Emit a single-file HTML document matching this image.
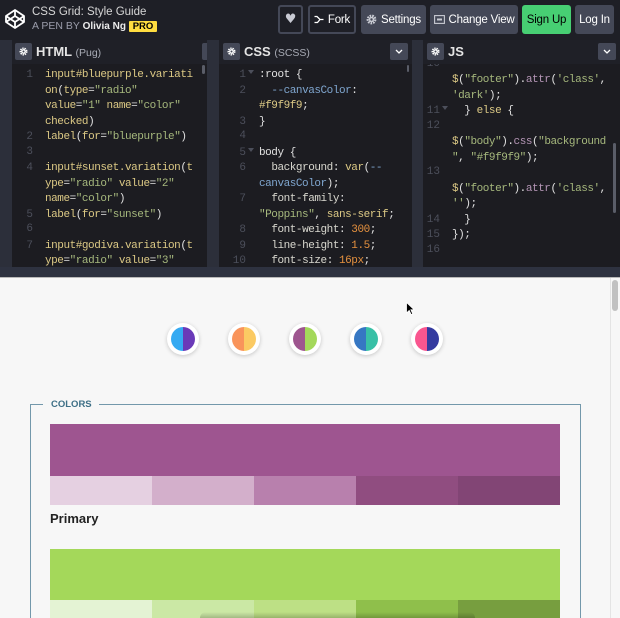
<!DOCTYPE html>
<html style="width:620px;height:618px;overflow:hidden"><head><meta charset="utf-8">
<style>
*{box-sizing:border-box;margin:0;padding:0}
html,body{width:620px;height:618px;overflow:hidden}
body{background:#f7f7f7;position:relative;font-family:"Liberation Sans",sans-serif}
.a{position:absolute}
#hdr{left:0;top:0;width:620px;height:40px;background:#1e1f26}
.btn{position:absolute;top:5px;height:29px;border-radius:3px;background:#444857;color:#fff;font-size:11.5px;display:flex;align-items:center;justify-content:center;letter-spacing:-0.2px;white-space:nowrap}
.ol{background:#1e1f26;border:2px solid #444857}
.pane{position:absolute;top:40px;height:227px;overflow:hidden;background:#1c1c21}
.ph{position:absolute;left:0;top:0;width:100%;height:24px;background:#1f2027}
.gear{position:absolute;top:3px;width:17px;height:17px;background:#444857;border-radius:2px;display:flex;align-items:center;justify-content:center}
.dd{position:absolute;top:3px;width:18px;height:17px;background:#444857;border-radius:2px;display:flex;align-items:center;justify-content:center}
.pt{position:absolute;top:4px;color:#e4e4e4;font-weight:bold;font-size:13px;line-height:16px;white-space:nowrap}
.pt small{font-weight:normal;font-size:10.5px;color:#a8abb5}
.code{position:absolute;left:0;top:24px;width:100%;height:203px;overflow:hidden}
.lines{position:absolute;left:0;font-family:"Liberation Mono",monospace;font-size:11px;letter-spacing:-0.45px;color:#e0e0e0}
.r{height:15.5px;line-height:15.5px;white-space:pre}
.n{display:inline-block;text-align:right;color:#4c4f5b;letter-spacing:0}
.f{display:inline-block;position:relative;height:10px}
.f.on::after{content:"";position:absolute;left:2px;top:3px;border-top:4px solid #4c4f5b;border-left:3px solid transparent;border-right:3px solid transparent}
.y{color:#dcc985}.w{color:#e2e2e2}.g{color:#a6b87d}.b{color:#7fa6cf}.o{color:#e5913f}.p{color:#b596b6}.pr{color:#d9d8cf}
.thumb{position:absolute;background:#5a5d68;border-radius:2px}
.cir{position:absolute;top:323px;width:32px;height:32px;border-radius:50%;background:#fff;box-shadow:0 1px 4px rgba(0,0,0,.2)}
.cir i{position:absolute;left:4px;top:4px;width:24px;height:24px;border-radius:50%}
.sw{position:absolute;height:29px}
.sw2{position:absolute;height:18px}
</style></head><body>

<!-- HEADER -->
<div id="hdr" class="a">
  <svg class="a" style="left:4px;top:8px" width="22" height="22" viewBox="0 0 22 22"><g fill="none" stroke="#fff" stroke-width="1.8" stroke-linejoin="round"><path d="M11 2 L20 8 L20 14 L11 20 L2 14 L2 8 Z"/><path d="M11 2 V8 M11 14 V20 M2 8 L11 14 L20 8 M2 14 L11 8 L20 14"/></g></svg>
  <div class="a" style="left:32px;top:5px;font-size:11.5px;line-height:15px;color:#d6d6d6;white-space:nowrap">CSS Grid: Style Guide</div>
  <div class="a" style="left:32px;top:20px;font-size:10.5px;line-height:13px;color:#9b9dab;white-space:nowrap">A PEN BY <b style="color:#ececec;font-size:10px">Olivia Ng</b></div>
  <div class="a" style="left:129px;top:21px;width:28px;height:11px;background:#ffdd40;border-radius:1px;color:#000;font-size:9.5px;font-weight:bold;line-height:11px;text-align:center">PRO</div>

  <div class="btn ol" style="left:278px;width:25px"><span style="color:#c8cad3;font-size:13px;font-family:'DejaVu Sans',sans-serif">♥</span></div>
  <div class="btn ol" style="left:308px;width:48px">
    <svg width="10" height="9" viewBox="0 0 10 9" style="margin-right:4px"><g fill="none" stroke="#fff" stroke-width="1.3"><path d="M0.5 1.5 H3 L6 4.5 H9.5 M6 4.5 L3.5 7.5 H0.5"/></g></svg>Fork</div>
  <div class="btn" style="left:361px;width:65px">
    <svg width="11" height="11" viewBox="0 0 11 11" style="margin-right:4px"><circle cx="5.5" cy="5.5" r="3.6" fill="none" stroke="#c9cbd3" stroke-width="2.6" stroke-dasharray="1.6 0.9"/><circle cx="5.5" cy="5.5" r="2.6" fill="#c9cbd3"/><circle cx="5.5" cy="5.5" r="1.2" fill="#444857"/></svg>Settings</div>
  <div class="btn" style="left:430px;width:88px">
    <svg width="11" height="9" viewBox="0 0 11 9" style="margin-right:4px"><rect x="0.6" y="0.6" width="9.8" height="7.8" fill="none" stroke="#c9cbd3" stroke-width="1.1"/><rect x="3" y="3.5" width="5" height="2" fill="#c9cbd3"/></svg>Change View</div>
  <div class="btn" style="left:522px;width:49px;background:#47cf73;color:#000">Sign Up</div>
  <div class="btn" style="left:575px;width:39px">Log In</div>
</div>

<!-- EDITOR AREA BG -->
<div class="a" style="left:0;top:40px;width:620px;height:237px;background:#2c2f3a"></div>
<div class="a" style="left:0;top:267px;width:620px;height:10px;background:#2e3240"></div>
<div class="a" style="left:0;top:277px;width:620px;height:1px;background:#b9b9b9"></div>

<!-- HTML PANE -->
<div class="pane" style="left:12px;width:195px">
  <div class="ph">
    <div class="gear" style="left:3px"><svg width="9" height="9" viewBox="0 0 9 9"><circle cx="4.5" cy="4.5" r="3" fill="none" stroke="#fff" stroke-width="2" stroke-dasharray="1.3 0.8"/><circle cx="4.5" cy="4.5" r="2.2" fill="#fff"/><circle cx="4.5" cy="4.5" r="1" fill="#444857"/></svg></div>
    <div class="pt" style="left:24px">HTML <small>(Pug)</small></div>
    <div class="dd" style="left:190px"></div>
  </div>
  <div class="code">
    <div class="lines" style="top:3.25px">
      <div class="r"><span class="n" style="width:21px">1</span><span class="f" style="width:12px"></span><span class="y">input#bluepurple.variati</span></div>
      <div class="r"><span class="n" style="width:21px"></span><span class="f" style="width:12px"></span><span class="y">on</span>(<span class="y">type</span>=<span class="g">"radio"</span></div>
      <div class="r"><span class="n" style="width:21px"></span><span class="f" style="width:12px"></span><span class="y">value</span>=<span class="g">"1"</span> <span class="y">name</span>=<span class="g">"color"</span></div>
      <div class="r"><span class="n" style="width:21px"></span><span class="f" style="width:12px"></span><span class="y">checked</span>)</div>
      <div class="r"><span class="n" style="width:21px">2</span><span class="f" style="width:12px"></span><span class="y">label</span>(<span class="y">for</span>=<span class="g">"bluepurple"</span>)</div>
      <div class="r"><span class="n" style="width:21px">3</span></div>
      <div class="r"><span class="n" style="width:21px">4</span><span class="f" style="width:12px"></span><span class="y">input#sunset.variation</span>(<span class="y">t</span></div>
      <div class="r"><span class="n" style="width:21px"></span><span class="f" style="width:12px"></span><span class="y">ype</span>=<span class="g">"radio"</span> <span class="y">value</span>=<span class="g">"2"</span></div>
      <div class="r"><span class="n" style="width:21px"></span><span class="f" style="width:12px"></span><span class="y">name</span>=<span class="g">"color"</span>)</div>
      <div class="r"><span class="n" style="width:21px">5</span><span class="f" style="width:12px"></span><span class="y">label</span>(<span class="y">for</span>=<span class="g">"sunset"</span>)</div>
      <div class="r"><span class="n" style="width:21px">6</span></div>
      <div class="r"><span class="n" style="width:21px">7</span><span class="f" style="width:12px"></span><span class="y">input#godiva.variation</span>(<span class="y">t</span></div>
      <div class="r"><span class="n" style="width:21px"></span><span class="f" style="width:12px"></span><span class="y">ype</span>=<span class="g">"radio"</span> <span class="y">value</span>=<span class="g">"3"</span></div>
    </div>
    <div class="thumb" style="left:190px;top:1px;width:3px;height:9px"></div>
  </div>
</div>

<!-- CSS PANE -->
<div class="pane" style="left:219px;width:193px">
  <div class="ph">
    <div class="gear" style="left:4px"><svg width="9" height="9" viewBox="0 0 9 9"><circle cx="4.5" cy="4.5" r="3" fill="none" stroke="#fff" stroke-width="2" stroke-dasharray="1.3 0.8"/><circle cx="4.5" cy="4.5" r="2.2" fill="#fff"/><circle cx="4.5" cy="4.5" r="1" fill="#444857"/></svg></div>
    <div class="pt" style="left:25px">CSS <small>(SCSS)</small></div>
    <div class="dd" style="left:171px"><svg width="8" height="5" viewBox="0 0 8 5"><path d="M1 1 L4 4 L7 1" fill="none" stroke="#fff" stroke-width="1.3"/></svg></div>
  </div>
  <div class="code">
    <div class="lines" style="top:3.25px">
      <div class="r"><span class="n" style="width:27px">1</span><span class="f on" style="width:13px"></span><span class="w">:root {</span></div>
      <div class="r"><span class="n" style="width:27px">2</span><span class="f" style="width:13px"></span>  <span class="b">--canvasColor</span>:</div>
      <div class="r"><span class="n" style="width:27px"></span><span class="f" style="width:13px"></span><span class="y">#f9f9f9</span>;</div>
      <div class="r"><span class="n" style="width:27px">3</span><span class="f" style="width:13px"></span>}</div>
      <div class="r"><span class="n" style="width:27px">4</span></div>
      <div class="r"><span class="n" style="width:27px">5</span><span class="f on" style="width:13px"></span>body {</div>
      <div class="r"><span class="n" style="width:27px">6</span><span class="f" style="width:13px"></span>  <span class="pr">background</span>: <span class="y">var</span>(<span class="b">--</span></div>
      <div class="r"><span class="n" style="width:27px"></span><span class="f" style="width:13px"></span><span class="b">canvasColor</span>);</div>
      <div class="r"><span class="n" style="width:27px">7</span><span class="f" style="width:13px"></span>  <span class="pr">font-family</span>:</div>
      <div class="r"><span class="n" style="width:27px"></span><span class="f" style="width:13px"></span><span class="g">"Poppins"</span>, <span class="y">sans-serif</span>;</div>
      <div class="r"><span class="n" style="width:27px">8</span><span class="f" style="width:13px"></span>  <span class="pr">font-weight</span>: <span class="o">300</span>;</div>
      <div class="r"><span class="n" style="width:27px">9</span><span class="f" style="width:13px"></span>  <span class="pr">line-height</span>: <span class="o">1.5</span>;</div>
      <div class="r"><span class="n" style="width:27px">10</span><span class="f" style="width:13px"></span>  <span class="pr">font-size</span>: <span class="o">16px</span>;</div>
    </div>
    <div class="thumb" style="left:188px;top:1px;width:2px;height:7px"></div>
  </div>
</div>

<!-- JS PANE -->
<div class="pane" style="left:423px;width:197px">
  <div class="ph">
    <div class="gear" style="left:4px"><svg width="9" height="9" viewBox="0 0 9 9"><circle cx="4.5" cy="4.5" r="3" fill="none" stroke="#fff" stroke-width="2" stroke-dasharray="1.3 0.8"/><circle cx="4.5" cy="4.5" r="2.2" fill="#fff"/><circle cx="4.5" cy="4.5" r="1" fill="#444857"/></svg></div>
    <div class="pt" style="left:25px">JS</div>
    <div class="dd" style="left:175px"><svg width="8" height="5" viewBox="0 0 8 5"><path d="M1 1 L4 4 L7 1" fill="none" stroke="#fff" stroke-width="1.3"/></svg></div>
  </div>
  <div class="code">
    <div class="lines" style="top:-7.25px">
      <div class="r"><span class="n" style="width:17px">10</span></div>
      <div class="r"><span class="n" style="width:17px"></span><span class="f" style="width:12px"></span><span class="y">$</span>(<span class="g">"footer"</span>).<span class="p">attr</span>(<span class="g">'class'</span>,</div>
      <div class="r"><span class="n" style="width:17px"></span><span class="f" style="width:12px"></span><span class="g">'dark'</span>);</div>
      <div class="r"><span class="n" style="width:17px">11</span><span class="f on" style="width:12px"></span>  } <span class="y">else</span> {</div>
      <div class="r"><span class="n" style="width:17px">12</span></div>
      <div class="r"><span class="n" style="width:17px"></span><span class="f" style="width:12px"></span><span class="y">$</span>(<span class="g">"body"</span>).<span class="p">css</span>(<span class="g">"background</span></div>
      <div class="r"><span class="n" style="width:17px"></span><span class="f" style="width:12px"></span><span class="g">"</span>, <span class="g">"#f9f9f9"</span>);</div>
      <div class="r"><span class="n" style="width:17px">13</span></div>
      <div class="r"><span class="n" style="width:17px"></span><span class="f" style="width:12px"></span><span class="y">$</span>(<span class="g">"footer"</span>).<span class="p">attr</span>(<span class="g">'class'</span>,</div>
      <div class="r"><span class="n" style="width:17px"></span><span class="f" style="width:12px"></span><span class="g">''</span>);</div>
      <div class="r"><span class="n" style="width:17px">14</span><span class="f" style="width:12px"></span>  }</div>
      <div class="r"><span class="n" style="width:17px">15</span><span class="f" style="width:12px"></span>});</div>
      <div class="r"><span class="n" style="width:17px">16</span></div>
    </div>
    <div class="thumb" style="left:190px;top:79px;width:3px;height:70px"></div>
  </div>
</div>

<!-- PREVIEW -->
<div class="a" style="left:610px;top:278px;width:1px;height:340px;background:#e4e4e4"></div>
<div class="a" style="left:612px;top:280px;width:6px;height:31px;border-radius:3px;background:#c1c1c1"></div>

<div class="cir" style="left:167px"><i style="background:linear-gradient(90deg,#35aaf2 50%,#6a3ab8 50%)"></i></div>
<div class="cir" style="left:228px"><i style="background:linear-gradient(90deg,#f9945b 50%,#fbca63 50%)"></i></div>
<div class="cir" style="left:289px"><i style="background:linear-gradient(90deg,#9e558f 50%,#a4d85a 50%)"></i></div>
<div class="cir" style="left:350px"><i style="background:linear-gradient(90deg,#3677c3 50%,#38c0a6 50%)"></i></div>
<div class="cir" style="left:411px"><i style="background:linear-gradient(90deg,#f9568f 50%,#343a9f 50%)"></i></div>

<svg class="a" style="left:406px;top:302px" width="10" height="14" viewBox="0 0 10 14"><path d="M0.5 0.5 L0.5 11 L3.2 8.4 L5.2 12.6 L6.8 11.9 L4.9 7.8 L8.3 7.8 Z" fill="#000" stroke="#fff" stroke-width="0.8"/></svg>

<!-- fieldset (clipped at page bottom) -->
<div class="a" style="left:30px;top:404px;width:1px;height:214px;background:#7398ab"></div>
<div class="a" style="left:580px;top:404px;width:1px;height:214px;background:#7398ab"></div>
<div class="a" style="left:30px;top:404px;width:551px;height:1px;background:#7398ab"></div>
<div class="a" style="left:43px;top:398px;width:56px;height:12px;background:#f7f7f7"></div>
<div class="a" style="left:51px;top:399px;font-size:9.5px;line-height:12px;font-weight:bold;color:#3d6f86;letter-spacing:0">COLORS</div>

<div class="a" style="left:50px;top:424px;width:510px;height:52px;background:#9e5590"></div>
<div class="sw" style="left:50px;top:476px;width:102px;background:#e5d0e1"></div>
<div class="sw" style="left:152px;top:476px;width:102px;background:#d3afcb"></div>
<div class="sw" style="left:254px;top:476px;width:102px;background:#b880ad"></div>
<div class="sw" style="left:356px;top:476px;width:102px;background:#904d80"></div>
<div class="sw" style="left:458px;top:476px;width:102px;background:#824575"></div>
<div class="a" style="left:50px;top:511px;font-size:13px;line-height:16px;font-weight:bold;color:#222">Primary</div>

<div class="a" style="left:50px;top:549px;width:510px;height:51px;background:#a4d85a"></div>
<div class="sw2" style="left:50px;top:600px;width:102px;background:#e4f3d4"></div>
<div class="sw2" style="left:152px;top:600px;width:102px;background:#cbe8a5"></div>
<div class="sw2" style="left:254px;top:600px;width:102px;background:#bde085"></div>
<div class="sw2" style="left:356px;top:600px;width:102px;background:#8fbf4b"></div>
<div class="sw2" style="left:458px;top:600px;width:102px;background:#779e3f"></div>

<div class="a" style="left:200px;top:612px;width:275px;height:6px;background:linear-gradient(to bottom,rgba(0,0,0,0),rgba(0,0,0,0.2));border-radius:6px 6px 0 0"></div>

</body></html>
